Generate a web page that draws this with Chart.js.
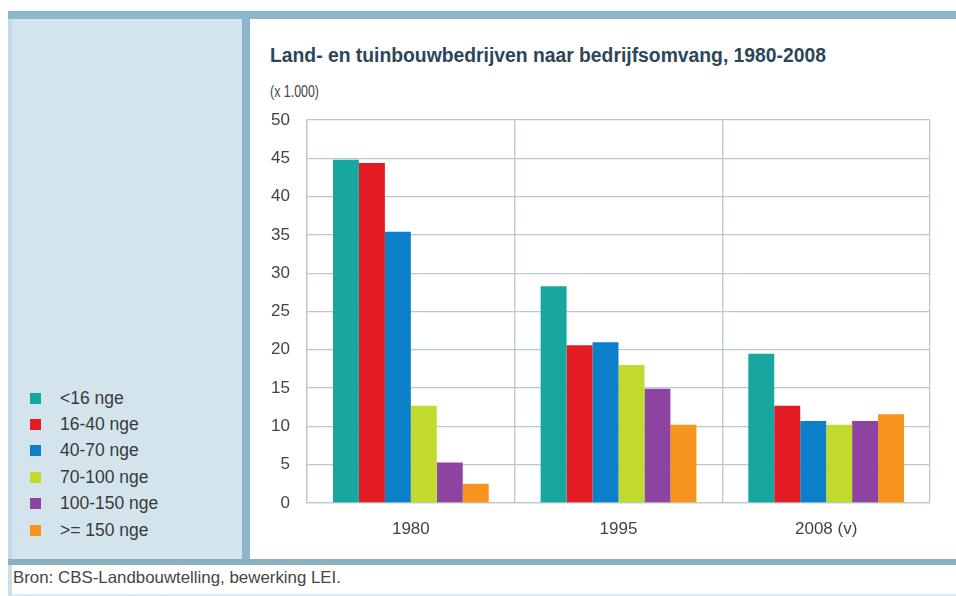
<!DOCTYPE html>
<html>
<head>
<meta charset="utf-8">
<script src="https://cdn.jsdelivr.net/npm/chart.js@4"></script>
<style>
  html, body { margin: 0; padding: 0; background: #ffffff; }
  body { width: 956px; height: 596px; position: relative; overflow: hidden; font-family: "Liberation Sans", Arial, sans-serif; }
  .abs { position: absolute; }
  #topbar { left: 8px; top: 11px; width: 948px; height: 8px; background: #8bb7cb; }
  #leftpanel { left: 8px; top: 19px; width: 234px; height: 540px; background: #d3e4ec; border-left: 4px solid #c3dbe6; box-sizing: border-box; }
  #sep { left: 242px; top: 19px; width: 8px; height: 540px; background: #8fb5cb; }
  #botbar { left: 8px; top: 559px; width: 948px; height: 6px; background: #8ab1bd; }
  #footer { left: 8px; top: 565px; width: 948px; height: 29px; background: #ffffff; border-left: 4px solid #c9e0ea; border-bottom: 2px solid #d6e8f0; box-sizing: content-box; }
  #footerText { left: 13px; top: 568px; font-size: 16.5px; color: #454545; white-space: nowrap; transform-origin: 0 0; }
  #title { left: 270px; top: 44px; font-size: 20px; font-weight: bold; color: #2c4658; white-space: nowrap; transform-origin: 0 0; }
  #unit { left: 270px; top: 82px; font-size: 17px; color: #444; white-space: nowrap; transform-origin: 0 0; }
  #legend { left: 30px; top: 385px; }
  .li { height: 26.4px; display: flex; align-items: center; font-size: 17.5px; color: #3a3a3a; white-space: nowrap; }
  .sw { width: 11px; height: 11px; margin-right: 19px; }
  #chartWrap { left: 250px; top: 20px; width: 706px; height: 538px; }
</style>
</head>
<body>
<div id="topbar" class="abs"></div>
<div id="leftpanel" class="abs"></div>
<div id="sep" class="abs"></div>
<div id="botbar" class="abs"></div>
<div id="footer" class="abs"></div>
<div id="footerText" class="abs">Bron: CBS-Landbouwtelling, bewerking LEI.</div>
<div id="title" class="abs">Land- en tuinbouwbedrijven naar bedrijfsomvang, 1980-2008</div>
<div id="unit" class="abs">(x 1.000)</div>
<div id="legend" class="abs"></div>
<div id="chartWrap" class="abs"><canvas id="c" width="706" height="538"></canvas></div>
<script>
// ---- data ----
const categories = ["1980", "1995", "2008 (v)"];
const seriesNames = ["<16 nge", "16-40 nge", "40-70 nge", "70-100 nge", "100-150 nge", ">= 150 nge"];
const under16   = [44.8, 28.3, 19.5];
const s16to40   = [44.4, 20.6, 12.7];
const s40to70   = [35.4, 21.0, 10.7];
const s70to100  = [12.7, 18.0, 10.2];
const s100to150 = [5.3, 14.9, 10.7];
const over150   = [2.5, 10.2, 11.6];
const yTicks = [0, 5, 10, 15, 20, 25, 30, 35, 40, 45, 50];

const colors = ["#17a79f", "#e31b23", "#0b80c8", "#c2d92e", "#8f43a0", "#f7941d"];
const seriesValues = [under16, s16to40, s40to70, s70to100, s100to150, over150];

// ---- fit text widths ----
function fitWidth(id, target) {
  const el = document.getElementById(id);
  const w = el.getBoundingClientRect().width;
  el.style.transform = 'scaleX(' + (target / w) + ')';
}
fitWidth('title', 556);
fitWidth('unit', 49);
fitWidth('footerText', 328);

// ---- legend ----
const legend = document.getElementById('legend');
seriesNames.forEach((name, i) => {
  const row = document.createElement('div');
  row.className = 'li';
  const sw = document.createElement('div');
  sw.className = 'sw';
  sw.style.background = colors[i];
  const tx = document.createElement('span');
  tx.textContent = name;
  row.appendChild(sw);
  row.appendChild(tx);
  legend.appendChild(row);
});

// ---- chart ----
const gridColor = '#bcc8d0';
new Chart(document.getElementById('c'), {
  type: 'bar',
  data: {
    labels: categories,
    datasets: seriesNames.map((n, i) => ({
      label: n,
      data: seriesValues[i],
      backgroundColor: colors[i],
      borderWidth: 0,
      categoryPercentage: 0.75,
      barPercentage: 1.0
    }))
  },
  options: {
    responsive: false,
    animation: false,
    layout: { padding: { top: 100, right: 26, left: 0, bottom: 0 } },
    plugins: { legend: { display: false }, tooltip: { enabled: false }, title: { display: false } },
    scales: {
      x: {
        grid: { color: gridColor, lineWidth: 1.3, offset: true, drawTicks: false },
        border: { color: gridColor, width: 1.3 },
        ticks: { color: '#444', font: { family: 'Liberation Sans', size: 17 }, padding: 16 },
        afterFit: (s) => { s.height = 55; }
      },
      y: {
        min: 0, max: 50,
        afterBuildTicks: (s) => { s.ticks = yTicks.map(v => ({ value: v })); },
        grid: { color: gridColor, lineWidth: 1.3, drawTicks: false },
        border: { color: gridColor, width: 1.3 },
        ticks: { color: '#444', font: { family: 'Liberation Sans', size: 17 }, padding: 17 },
        afterFit: (s) => { s.width = 57; }
      }
    }
  }
});
</script>
</body>
</html>
